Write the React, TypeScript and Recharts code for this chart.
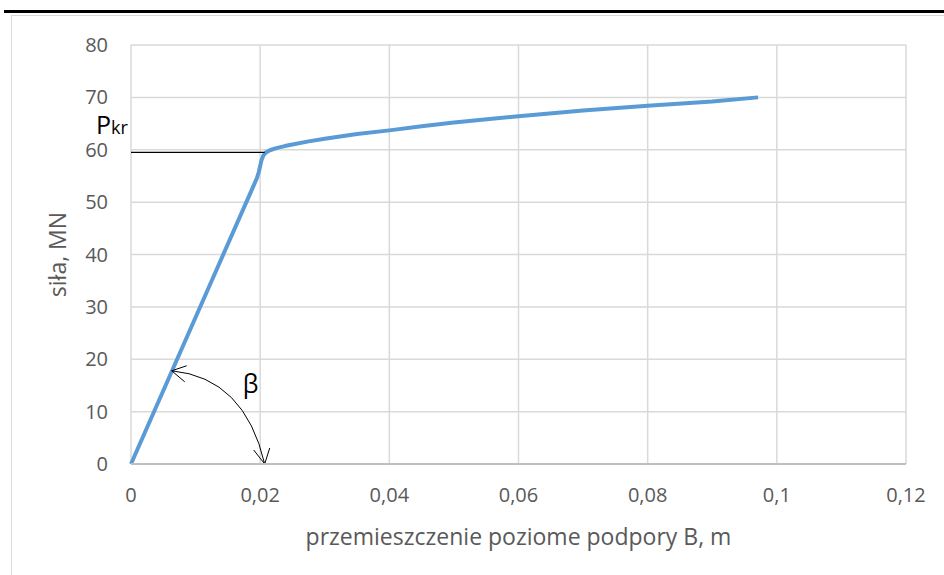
import React from "react";
import {
  LineChart,
  Line,
  XAxis,
  YAxis,
  CartesianGrid,
  ReferenceLine,
} from "recharts";

// displacement of support B [m] and force [MN]
const displacement = [
  0, 0.006, 0.012, 0.0195, 0.0198, 0.02, 0.0202, 0.0205, 0.0209, 0.0215, 0.0225, 0.0238, 0.025,
  0.0275, 0.03, 0.035, 0.04, 0.045, 0.05, 0.06, 0.07, 0.08, 0.09, 0.0971,
];
const force = [
  0, 16.8, 33.6, 54.6, 55.8, 56.9, 58.0, 58.9, 59.5, 59.9, 60.3, 60.7, 61.0, 61.6, 62.1, 63.0,
  63.7, 64.5, 65.2, 66.4, 67.5, 68.4, 69.2, 70.0,
];
const xTicks = [0, 0.02, 0.04, 0.06, 0.08, 0.1, 0.12];
const yTicks = [0, 10, 20, 30, 40, 50, 60, 70, 80];

const pKr = 59.5;
const pKrEndX = 0.0207;
const betaStart = { x: 0.0063, y: 17.8 };
const betaEnd = { x: 0.0207, y: 0 };

const data = displacement.map((x, i) => ({ x, y: force[i] }));

const FONT = "'Open Sans', sans-serif";
const fmt = (v: number) => String(v).replace(".", ",");

const PkrShape = (props: any) => {
  const { x1, y1, x2, y2 } = props;
  return (
    <g>
      <line x1={x1} y1={y1} x2={x2} y2={y2} stroke="#000" strokeWidth={1.2} />
      <text x={x1 - 35} y={y1 - 18} fill="#000" fontFamily={FONT}>
        <tspan fontSize={25}>P</tspan>
        <tspan fontSize={18}>kr</tspan>
      </text>
    </g>
  );
};

const BetaShape = (props: any) => {
  const { x1, y1, x2, y2 } = props;
  const cx = x2 - 20;
  const cy = y1 + 7;
  // arrow heads (open V)
  const a1 = `M ${x1 + 15} ${y1 - 5} L ${x1} ${y1} L ${x1 + 13} ${y1 + 11}`;
  const a2 = `M ${x2 - 11} ${y2 - 14} L ${x2} ${y2} L ${x2 + 5} ${y2 - 16}`;
  return (
    <g fill="none" stroke="#000" strokeWidth={1}>
      <path d={`M ${x1} ${y1} Q ${cx} ${cy} ${x2} ${y2}`} />
      <path d={a1} />
      <path d={a2} />
      <text
        x={x2 - 14}
        y={y1 + 22}
        stroke="none"
        fill="#000"
        fontSize={25}
        fontFamily={FONT}
        textAnchor="middle"
      >
        β
      </text>
    </g>
  );
};

export default function App() {
  return (
    <div style={{ position: "absolute", left: 0, top: 0, width: 944, height: 575, background: "#fff" }}>
      <div style={{ position: "absolute", left: 4, top: 10, width: 940, height: 3, background: "#000" }} />
      <div
        style={{
          position: "absolute",
          left: 11,
          top: 15,
          width: 940,
          height: 600,
          border: "1px solid #d9d9d9",
          boxSizing: "border-box",
        }}
      />
      <div style={{ position: "absolute", left: 0, top: 0 }}>
        <LineChart
          width={944}
          height={575}
          data={data}
          margin={{ top: 45, right: 38, bottom: 0, left: 0 }}
        >
          <CartesianGrid stroke="#d9d9d9" strokeWidth={1.5} />
          <XAxis
            type="number"
            dataKey="x"
            domain={[0, 0.12]}
            ticks={xTicks}
            tickFormatter={fmt}
            height={111}
            tickSize={0}
            tickMargin={24}
            stroke="#bfbfbf"
            strokeWidth={2}
            tick={{ fill: "#595959", fontSize: 20, fontFamily: FONT }}
            label={(p: any) => {
              const vb = p.viewBox;
              return (
                <text
                  x={vb.x + vb.width / 2}
                  y={545}
                  textAnchor="middle"
                  fill="#595959"
                  fontSize={23}
                  fontFamily={FONT}
                >
                  przemieszczenie poziome podpory B, m
                </text>
              );
            }}
          />
          <YAxis
            type="number"
            domain={[0, 80]}
            ticks={yTicks}
            width={131}
            axisLine={false}
            tickLine={false}
            tickSize={0}
            tickMargin={23}
            tick={{ fill: "#595959", fontSize: 20, fontFamily: FONT }}
            label={(p: any) => {
              const vb = p.viewBox;
              const cy = vb.y + vb.height / 2;
              return (
                <text
                  x={66}
                  y={cy}
                  transform={`rotate(-90, 66, ${cy})`}
                  textAnchor="middle"
                  fill="#595959"
                  fontSize={23}
                  fontFamily={FONT}
                >
                  siła, MN
                </text>
              );
            }}
          />
          <Line
            type="linear"
            dataKey="y"
            stroke="#5b9bd5"
            strokeWidth={4}
            strokeLinejoin="round"
            dot={false}
            isAnimationActive={false}
          />
          <ReferenceLine
            segment={[
              { x: 0, y: pKr },
              { x: pKrEndX, y: pKr },
            ]}
            ifOverflow="visible"
            shape={PkrShape}
          />
          <ReferenceLine
            segment={[betaStart, betaEnd]}
            ifOverflow="visible"
            shape={BetaShape}
          />
        </LineChart>
      </div>
    </div>
  );
}
